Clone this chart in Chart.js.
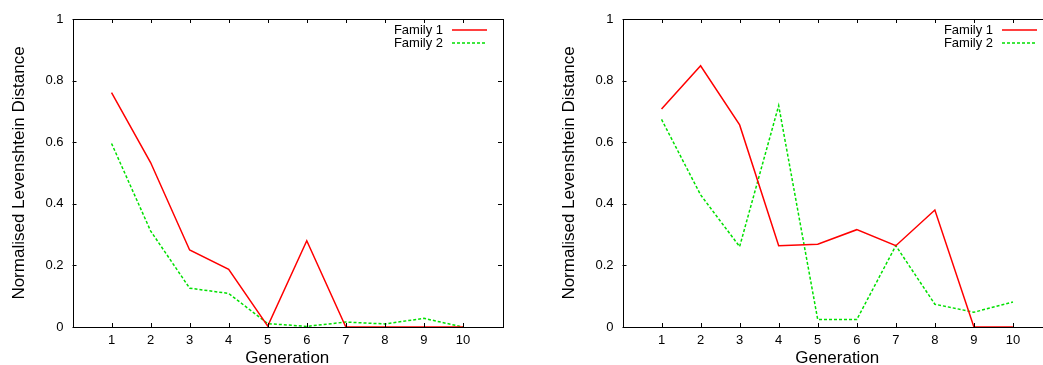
<!DOCTYPE html>
<html lang="en">
<head>
<meta charset="UTF-8">
<title>Normalised Levenshtein Distance per Generation</title>
<script src="https://cdn.jsdelivr.net/npm/chart.js"></script>
<style>
  html, body { margin: 0; padding: 0; background: #fff; }
  #wrap { position: relative; width: 1043px; height: 365px; overflow: hidden; }
  .box { position: absolute; top: 0; width: 520px; height: 365px; }
</style>
</head>
<body>
<div id="wrap">
  <div class="box" style="left:0"><canvas id="leftChart" width="520" height="365"></canvas></div>
  <div class="box" style="left:550px"><canvas id="rightChart" width="520" height="365"></canvas></div>
</div>

<script>
// data
const generations = [1, 2, 3, 4, 5, 6, 7, 8, 9, 10];
const seriesNames = ['Family 1', 'Family 2'];
const leftFamily1 = [0.761, 0.534, 0.250, 0.187, 0.003, 0.280, 0.0, 0.0, 0.0, 0.0];
const leftFamily2 = [0.596, 0.312, 0.126, 0.109, 0.011, 0.002, 0.016, 0.010, 0.028, 0.0];
const rightFamily1 = [0.708, 0.848, 0.656, 0.264, 0.269, 0.316, 0.264, 0.380, 0.0, 0.0];
const rightFamily2 = [0.674, 0.429, 0.261, 0.719, 0.024, 0.024, 0.264, 0.074, 0.048, 0.081];
const yTicks = [0, 0.2, 0.4, 0.6, 0.8, 1];

const FONT = 'Liberation Sans, Arial, Helvetica, sans-serif';

function toPoints(values) {
    return generations.map((g, i) => ({ x: g, y: values[i] }));
}

// gnuplot style frame: inside ticks on all four sides + key at top right
const framePlugin = {
    id: 'frame',
    afterDatasetsDraw(chart) {
        const ctx = chart.ctx;
        const a = chart.chartArea;
        const xs = chart.scales.x, ys = chart.scales.y;
        const tl = 4;
        ctx.save();
        ctx.strokeStyle = '#000';
        ctx.lineWidth = 1;
        ctx.strokeRect(Math.round(a.left) + 0.5, Math.round(a.top) + 0.5,
                       Math.round(a.right - a.left), Math.round(a.bottom - a.top));
        ctx.beginPath();
        generations.forEach(g => {
            const px = Math.round(xs.getPixelForValue(g)) + 0.5;
            ctx.moveTo(px, a.bottom); ctx.lineTo(px, a.bottom - tl);
            ctx.moveTo(px, a.top); ctx.lineTo(px, a.top + tl);
        });
        yTicks.forEach(v => {
            const py = Math.round(ys.getPixelForValue(v)) + 0.5;
            ctx.moveTo(a.left, py); ctx.lineTo(a.left + tl, py);
            ctx.moveTo(a.right, py); ctx.lineTo(a.right - tl, py);
        });
        ctx.stroke();

        // key
        ctx.font = '13px ' + FONT;
        ctx.textAlign = 'right';
        ctx.textBaseline = 'middle';
        chart.data.datasets.forEach((ds, i) => {
            const y = a.top + 11 + i * 13;
            ctx.fillStyle = '#000';
            ctx.fillText(ds.label, a.right - 59, y);
            ctx.strokeStyle = ds.borderColor;
            ctx.lineWidth = ds.borderWidth;
            ctx.setLineDash(ds.borderDash || []);
            ctx.beginPath();
            ctx.moveTo(a.right - 50, y);
            ctx.lineTo(a.right - 15, y);
            ctx.stroke();
            ctx.setLineDash([]);
        });
        ctx.restore();
    }
};

function makeChart(id, fam1, fam2) {
    const ctx = document.getElementById(id).getContext('2d');
    return new Chart(ctx, {
        type: 'line',
        data: {
            datasets: [
                {
                    label: seriesNames[0],
                    data: toPoints(fam1),
                    borderColor: '#ff0000',
                    borderWidth: 1.5,
                    pointRadius: 0,
                    tension: 0
                },
                {
                    label: seriesNames[1],
                    data: toPoints(fam2),
                    borderColor: '#00e000',
                    borderWidth: 1.5,
                    borderDash: [3, 2],
                    pointRadius: 0,
                    tension: 0
                }
            ]
        },
        options: {
            responsive: false,
            animation: false,
            layout: { padding: { left: 0, right: 18, top: 19, bottom: 0 } },
            plugins: {
                legend: { display: false },
                tooltip: { enabled: false }
            },
            scales: {
                x: {
                    type: 'linear',
                    min: 0,
                    max: 11,
                    afterFit: s => { s.height = 38; },
                    grid: { display: false, drawTicks: false },
                    border: { display: false },
                    ticks: {
                        stepSize: 1,
                        padding: 6,
                        autoSkip: false,
                        maxRotation: 0,
                        color: '#000',
                        font: { family: FONT, size: 13 },
                        callback: v => (v >= 1 && v <= 10 ? String(v) : '')
                    },
                    title: {
                        display: true,
                        text: 'Generation',
                        color: '#000',
                        font: { family: FONT, size: 17 },
                        padding: { top: 0, bottom: -4 }
                    }
                },
                y: {
                    min: 0,
                    max: 1,
                    afterFit: s => { s.width = 72.5; },
                    grid: { display: false, drawTicks: false },
                    border: { display: false },
                    ticks: {
                        stepSize: 0.2,
                        padding: 9,
                        color: '#000',
                        font: { family: FONT, size: 13 },
                        callback: v => String(Math.round(v * 10) / 10)
                    },
                    title: {
                        display: true,
                        text: 'Normalised Levenshtein Distance',
                        color: '#000',
                        font: { family: FONT, size: 17 },
                        padding: { top: 9, bottom: 0 }
                    }
                }
            }
        },
        plugins: [framePlugin]
    });
}

makeChart('leftChart', leftFamily1, leftFamily2);
makeChart('rightChart', rightFamily1, rightFamily2);
</script>
</body>
</html>
